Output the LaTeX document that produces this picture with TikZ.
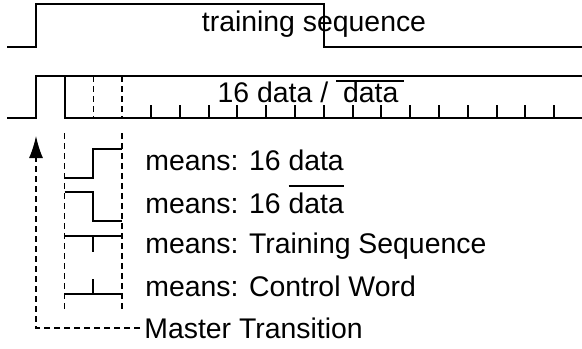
\documentclass[tikz,border=0pt]{standalone}
\usepackage{fontspec}
\setmainfont{Liberation Sans}
\usetikzlibrary{arrows.meta}
% text with a bar over it: #1 = gap between bar and text
\newcommand\barred[2]{\leavevmode\vbox{\hrule height 1pt\kern#1\hbox{#2}}}
\begin{document}
\begin{tikzpicture}[x=0.5pt,y=-0.5pt,
  wave/.style={line width=1pt},
  guide/.style={line width=0.7pt,dash pattern=on 3pt off 2pt},
  lbl/.style={anchor=base west,inner sep=0pt,font=\fontsize{14.2}{17}\selectfont},
  title/.style={anchor=base,inner sep=0pt,font=\fontsize{14.2}{17}\selectfont}]
\useasboundingbox (0,0) rectangle (582,348);

% training-sequence signal
\draw[wave] (7,47) -- (36,47) -- (36,4) -- (324,4) -- (324,47) -- (582,47);
\node[title] (ts) at (314,32) {training sequence};

% data signal with bit slots
\draw[wave] (7,118) -- (36,118) -- (36,76) -- (582,76);
\draw[wave] (64.5,76) -- (64.5,118) -- (582,118);
\foreach \x in {93.3,122.1}
  \draw[guide] (\x,76) -- (\x,118);
\foreach \k in {1,...,15}
  \draw[wave] ({122.1+28.8*\k},105) -- ({122.1+28.8*\k},118);
\node[title] (data) at (311,102) {16 data / \barred{-0.5pt}{\hspace{3.5pt}data\hspace{3pt}}};

% legend guides
\foreach \x in {64.5,122.1}
  \draw[guide] (\x,133) -- (\x,310);

% legend symbols
\draw[wave] (64.5,178) -- (93.3,178) -- (93.3,149) -- (122.1,149);
\draw[wave] (64.5,192) -- (93.3,192) -- (93.3,221) -- (122.1,221);
\draw[wave] (64.5,236) -- (122.1,236) (93.3,236) -- (93.3,252);
\draw[wave] (64.5,294) -- (122.1,294) (93.3,294) -- (93.3,279);

% legend texts
\node[lbl] (l1) at (145,170) {means: 16 data};
\node[lbl] (l2) at (145,213) {means: 16 \barred{2.5pt}{data}};
\node[lbl] (l3) at (145,253) {means: Training Sequence};
\node[lbl] (l4) at (145,296) {means: Control Word};
\node[lbl,inner xsep=2pt] (mt) at (140,338) {Master Transition};

% master transition pointer
\coordinate (rise) at (36,136);
\draw[guide,-{Latex[length=11pt,width=7pt]}] (mt.west) -| (rise);
\end{tikzpicture}
\end{document}
